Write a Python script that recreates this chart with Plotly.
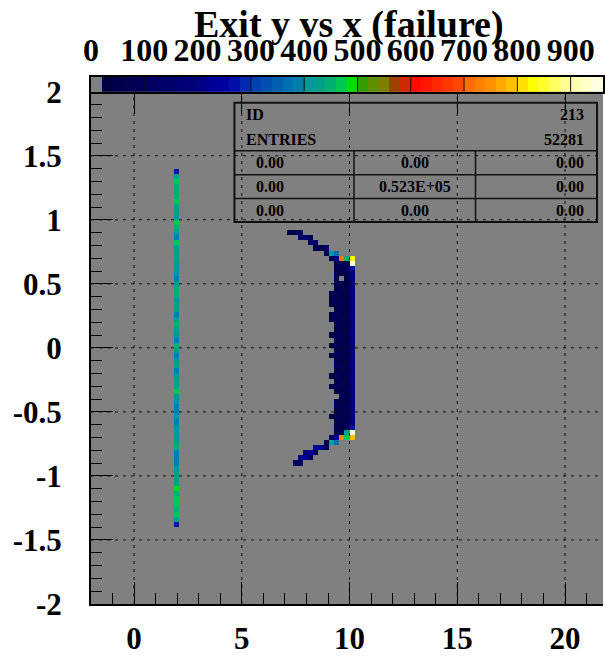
import numpy as np
import plotly.graph_objects as go

# ---------------- data ----------------
# histogram binning (100 x 100 bins)
X_MIN, X_MAX, NX = -2.0, 22.0, 100
Y_MIN, Y_MAX, NY = -2.0, 2.0, 100

# vertical strip at x = 1.96, bins from y = -1.38 (bottom) to y = 1.38 (top)
STRIP_X = 1.96
STRIP_Y_FIRST, STRIP_Y_LAST = -1.38, 1.38
STRIP_VALUES = [
    265, 420, 460, 445, 460, 465, 445, 490, 435, 420,
    435, 405, 390, 385, 390, 445, 435, 410, 405, 410,
    390, 405, 385, 390, 405, 410, 470, 435, 430, 410,
    390, 435, 405, 390, 420, 440, 390, 410, 430, 440,
    435, 390, 435, 420, 410, 445, 445, 410, 390, 410,
    405, 410, 435, 420, 420, 470, 390, 410, 455, 460,
    405, 420, 420, 460, 445, 445, 455, 460, 435, 265,
]

# body of the curve near x = 10 : columns (x centres) and rows (top to bottom)
BODY_X = [9.16, 9.40, 9.64, 9.88, 10.12]
BODY_Y_TOP, BODY_Y_BOTTOM = 0.62, -0.62
BODY_Z = [
    [None, 55, 60, 55, 270],
    [None, 60, 55, 60, 190],
    [None, 55, None, 60, 180],
    [None, 60, 60, 55, 185],
    [None, 55, 60, 60, 180],
    [45, 60, 55, 60, 190],
    [50, 55, 60, 55, 180],
    [45, 60, 60, 60, 185],
    [None, 55, 60, 55, 180],
    [50, 60, 55, 60, 190],
    [45, 55, 60, 60, 180],
    [None, 60, 60, 55, 185],
    [None, 55, 55, 60, 180],
    [50, 60, 60, 60, 190],
    [None, 55, 60, 55, 180],
    [45, 60, 55, 60, 185],
    [None, 55, 60, 60, 180],
    [50, 60, 60, 55, 190],
    [None, 55, 55, 60, 180],
    [None, 60, 60, 60, 185],
    [None, 55, 60, 55, 180],
    [45, 60, 55, 60, 190],
    [None, 55, 60, 60, 180],
    [50, 60, 60, 55, 185],
    [None, 55, 55, 60, 180],
    [None, None, 60, 60, 190],
    [None, 55, 60, 55, 180],
    [None, 60, 55, 60, 185],
    [None, 55, 60, 60, 180],
    [45, 60, 60, 55, 190],
    [None, 55, 55, 60, 180],
    [None, 60, 60, 60, 270],
]

# tails and hot spots of the curve
EDGE_X = [7.24, 7.48, 7.72, 7.72, 7.96, 8.20, 8.20, 8.44, 8.44, 8.68, 8.92,
          8.92, 9.16, 9.40, 9.16, 9.40, 9.64, 9.88, 10.12, 9.40, 9.64, 9.88, 10.12,
          9.40, 9.64, 9.88, 10.12, 9.16, 9.40, 9.64, 9.88, 10.12, 8.92, 9.16, 9.40,
          8.44, 8.68, 8.92, 7.96, 8.20, 8.44, 7.72, 7.96, 8.20, 7.48, 7.72]
EDGE_Y = [0.90, 0.90, 0.90, 0.86, 0.86, 0.86, 0.82, 0.82, 0.78, 0.78, 0.78,
          0.74, 0.74, 0.74, 0.70, 0.70, 0.70, 0.70, 0.70, 0.66, 0.66, 0.66, 0.66,
          -0.66, -0.66, -0.66, -0.66, -0.70, -0.70, -0.70, -0.70, -0.70, -0.74, -0.74, -0.74,
          -0.78, -0.78, -0.78, -0.82, -0.82, -0.82, -0.86, -0.86, -0.86, -0.90, -0.90]
EDGE_Z = [50, 55, 110, 150, 140, 60, 150, 160, 55, 70, 150,
          60, 410, 370, 70, 190, 710, 450, 830, 60, 60, 60, 950,
          60, 60, 430, 955, 80, 250, 720, 470, 790, 60, 430, 370,
          240, 200, 60, 150, 240, 60, 200, 240, 60, 100, 90]

# colour levels, 20 entries wide each, from 0 to 960
Z_STEP = 20
COLORS = [
    "#808080",
    "#000040", "#00004a", "#000052", "#00005a",
    "#000062", "#000068", "#00006c", "#000072", "#00007c",
    "#000088", "#000096", "#0000a0", "#0010a8", "#0028b0",
    "#0040b0", "#0050b0", "#0060b0", "#0070b0", "#0080a8",
    "#009898", "#00a088", "#00b070", "#00c850", "#00e000",
    "#30a000", "#609000", "#808000", "#a04000", "#d02800",
    "#ff0800", "#ff1800", "#ff2800", "#ff3800", "#ff4800",
    "#ff7000", "#ff8000", "#ff9000", "#ffa800", "#ffc000",
    "#ffe000", "#ffff00", "#ffff30", "#ffff60", "#ffff90",
    "#ffffb0", "#ffffc8", "#ffffe0",
]
CBAR_MAX = 960.7
CBAR_TICKS = [0, 100, 200, 300, 400, 500, 600, 700, 800, 900]

X_TICKS = [0, 5, 10, 15, 20]
Y_TICKS = [-2, -1.5, -1, -0.5, 0, 0.5, 1, 1.5, 2]
Y_TICK_LABELS = ["-2", "-1.5", "-1", "-0.5", "0", "0.5", "1", "1.5", "2"]
Y_GRID = [-1.5, -1, -0.5, 0, 0.5, 1, 1.5]

TITLE = "Exit y vs x (failure)"
STATS_ID = "213"
STATS_ENTRIES = "52281"
STATS_GRID = [["0.00", "0.00", "0.00"],
              ["0.00", "0.523E+05", "0.00"],
              ["0.00", "0.00", "0.00"]]

# ---------------- build histogram grid ----------------
DX = (X_MAX - X_MIN) / NX
DY = (Y_MAX - Y_MIN) / NY
x_centres = X_MIN + DX * (np.arange(NX) + 0.5)
y_centres = Y_MIN + DY * (np.arange(NY) + 0.5)
grid = np.full((NY, NX), np.nan)


def fill(x, y, z):
    if z is None:
        return
    k = int(np.floor((x - X_MIN) / DX + 1e-6))
    j = int(np.floor((y - Y_MIN) / DY + 1e-6))
    grid[j, k] = z


strip_y = np.linspace(STRIP_Y_FIRST, STRIP_Y_LAST, len(STRIP_VALUES))
for y, z in zip(strip_y, STRIP_VALUES):
    fill(STRIP_X, y, z)
body_y = np.linspace(BODY_Y_TOP, BODY_Y_BOTTOM, len(BODY_Z))
for y, row in zip(body_y, BODY_Z):
    for x, z in zip(BODY_X, row):
        fill(x, y, z)
for x, y, z in zip(EDGE_X, EDGE_Y, EDGE_Z):
    fill(x, y, z)

n = len(COLORS)
ZMAX = n * Z_STEP
colorscale = []
for i, c in enumerate(COLORS):
    colorscale.append([i / n, c])
    colorscale.append([(i + 1) / n, c])

# ---------------- layout geometry ----------------
W, H = 605, 656
ML, MR, MT, MB = 91, 0, 77, 45
PW = W - ML - MR
PH = H - MT - MB
MAIN_TOP = (H - MB - 92) / PH
X_RIGHT = -2 + PW / 21.63


def px(xp):
    return (xp - ML) / PW


def py(yp):
    return (H - MB - yp) / PH


FONT = "Liberation Serif"

fig = go.Figure()
fig.add_trace(go.Heatmap(
    x=x_centres, y=y_centres, z=grid, colorscale=colorscale,
    zmin=0, zmax=ZMAX, showscale=False, hoverinfo="skip",
    xaxis="x", yaxis="y"))

cb_vals = np.arange(Z_STEP / 2, CBAR_MAX + Z_STEP, Z_STEP)
fig.add_trace(go.Heatmap(
    x=cb_vals, y=[0], z=[cb_vals], colorscale=colorscale,
    zmin=0, zmax=ZMAX, showscale=False, hoverinfo="skip",
    xaxis="x2", yaxis="y2"))

fig.add_trace(go.Scatter(x=[None], y=[None], xaxis="x3", yaxis="y",
                         showlegend=False, hoverinfo="skip"))

tickfont = dict(family=FONT, size=31, color="black", weight="bold")

fig.update_layout(
    width=W, height=H,
    margin=dict(l=ML, r=MR, t=MT, b=MB, pad=0),
    paper_bgcolor="white", plot_bgcolor="#808080",
    showlegend=False,
    xaxis=dict(domain=[0, 1], range=[X_MIN, X_RIGHT], anchor="y",
               tickmode="array", tickvals=X_TICKS,
               ticktext=[str(v) for v in X_TICKS],
               ticks="inside", ticklen=22, tickwidth=1, tickcolor="black",
               minor=dict(tickmode="linear", tick0=0, dtick=1, ticks="inside",
                          ticklen=11, tickwidth=1, tickcolor="black", showgrid=False),
               showgrid=False, zeroline=False, showline=True, linecolor="black",
               linewidth=2, tickfont=tickfont, ticklabelstandoff=6),
    xaxis3=dict(overlaying="x", matches="x", side="top", anchor="y",
                tickmode="array", tickvals=X_TICKS, showticklabels=False,
                ticks="inside", ticklen=22, tickwidth=1, tickcolor="black",
                showgrid=False, zeroline=False, showline=False),
    yaxis=dict(domain=[0, MAIN_TOP], range=[Y_MIN, Y_MAX], anchor="x",
               tickmode="array", tickvals=Y_TICKS, ticktext=Y_TICK_LABELS,
               ticks="inside", ticklen=22, tickwidth=1, tickcolor="black",
               minor=dict(tickmode="linear", tick0=0, dtick=0.1, ticks="inside",
                          ticklen=11, tickwidth=1, tickcolor="black", showgrid=False),
               showgrid=False, zeroline=False, showline=True, linecolor="black",
               linewidth=2, tickfont=tickfont, ticklabelstandoff=21),
    xaxis2=dict(domain=[0, 1], range=[0, CBAR_MAX], anchor="y2", side="top",
                tickmode="array", tickvals=CBAR_TICKS,
                ticktext=[str(v) for v in CBAR_TICKS], ticks="",
                showgrid=False, zeroline=False, showline=True, mirror=True,
                linecolor="black", linewidth=1.5,
                tickfont=dict(family=FONT, size=32, color="black", weight="bold"),
                ticklabelstandoff=1),
    yaxis2=dict(domain=[MAIN_TOP, 1], range=[-0.5, 0.5], anchor="x2",
                showticklabels=False, ticks="", showgrid=False, zeroline=False,
                showline=True, mirror=True, linecolor="black", linewidth=1.5),
)

shapes = []
dash = dict(color="#111111", width=1, dash="3px,5px")
for xv in X_TICKS:
    shapes.append(dict(type="line", xref="x", yref="y", x0=xv, x1=xv,
                       y0=Y_MIN, y1=Y_MAX, line=dash, layer="above"))
for yv in Y_GRID:
    shapes.append(dict(type="line", xref="x", yref="y", x0=X_MIN, x1=X_RIGHT,
                       y0=yv, y1=yv, line=dash, layer="above"))
for v in CBAR_TICKS[1:]:
    shapes.append(dict(type="line", xref="x2", yref="y2", x0=v, x1=v,
                       y0=-0.5, y1=0.5, line=dict(color="#111111", width=1),
                       layer="above"))

# statistics box
box = dict(color="#111111", width=1.5)
shapes.append(dict(type="rect", xref="paper", yref="paper",
                   x0=px(235), x1=px(599), y0=py(224), y1=py(103),
                   line=dict(color="#111111", width=2), layer="above"))
for yl in (151.7, 176, 200):
    shapes.append(dict(type="line", xref="paper", yref="paper",
                       x0=px(235), x1=px(599), y0=py(yl), y1=py(yl),
                       line=box, layer="above"))
for xl in (355, 477):
    shapes.append(dict(type="line", xref="paper", yref="paper",
                       x0=px(xl), x1=px(xl), y0=py(224), y1=py(151.7),
                       line=box, layer="above"))
fig.update_layout(shapes=shapes)

sfont = dict(family=FONT, size=16, color="black", weight="bold")
ann = []


def text(t, x, y, anchor):
    ann.append(dict(text=t, xref="paper", yref="paper", x=px(x), y=py(y),
                    xanchor=anchor, yanchor="middle", showarrow=False,
                    font=sfont))


text("ID", 245, 115, "left")
text(STATS_ID, 588, 115, "right")
text("ENTRIES", 245, 140, "left")
text(STATS_ENTRIES, 588, 140, "right")
for row, yy in zip(STATS_GRID, (164, 188, 212)):
    text(row[0], 255, yy, "left")
    text(row[1], 416, yy, "center")
    text(row[2], 588, yy, "right")

ann.append(dict(text=TITLE, xref="paper", yref="paper", x=px(350), y=py(24),
                xanchor="center", yanchor="middle", showarrow=False,
                font=dict(family=FONT, size=38, color="black", weight="bold")))
fig.update_layout(annotations=ann)

fig.write_html("out.html",
               config={"displayModeBar": False},
               post_script="document.body.style.margin='0';"
                           "document.body.style.overflow='hidden';")
